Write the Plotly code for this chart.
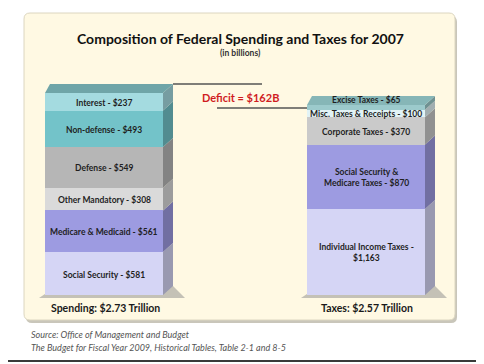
import plotly.graph_objects as go

# ---------------- data ----------------
spend_labels = ["Social Security - $581", "Medicare & Medicaid - $561", "Other Mandatory - $308",
                "Defense - $549", "Non-defense - $493", "Interest - $237"]
spend_values = [581, 561, 308, 549, 493, 237]
tax_labels = ["Individual Income Taxes -<br>$1,163", "Social Security &<br>Medicare Taxes - $870",
              "Corporate Taxes - $370", "Misc. Taxes & Receipts - $100", "Excise Taxes - $65"]
tax_values = [1163, 870, 370, 100, 65]
bar_titles = ["Spending: $2.73 Trillion", "Taxes: $2.57 Trillion"]
deficit_text = "Deficit = $162B"
title = "Composition of Federal Spending and Taxes for 2007"
subtitle = "(in billions)"
source_lines = ["Source: Office of Management and Budget",
                "The Budget for Fiscal Year 2009, Historical Tables, Table 2-1 and 8-5"]

# ---------------- style ----------------
spend_colors = ["#D5D5F5", "#9D9BE1", "#DADADA", "#B6B6B6", "#73C3C9", "#A4DBE0"]
tax_colors = ["#D5D5F5", "#9D9BE1", "#CACACA", "#E2F3F6", "#9CCACC"]
W, H = 484, 364
OFF = 8                          # page body margin of the browser
BASE = 295.0                     # screen row of bar bottoms
K = 202.0 / sum(spend_values)    # pixels per billion
DX, DY = 10.0, 9.0               # 3D depth offsets (px)
FONT = "Lato"
centers = [104.0, 366.0]
BW = 118.0


def py(p):
    """screen row -> data y"""
    return (BASE - p) / K


def dk(hexc, f=0.72):
    hexc = hexc.lstrip("#")
    r, g, b = (int(hexc[i:i + 2], 16) for i in (0, 2, 4))
    return "rgb(%d,%d,%d)" % (r * f, g * f, b * f)


fig = go.Figure()
shapes = []
ann = []

# frame / panel
shapes.append(dict(type="line", x0=480, x1=480, y0=py(0), y1=py(361), line=dict(color="#3a3a3a", width=2), layer="below"))
shapes.append(dict(type="line", x0=8, x1=481, y0=py(361), y1=py(361), line=dict(color="#3a3a3a", width=2), layer="below"))


def rrect(x0, y0, x1, y1, r):
    ry = r / K
    Y0, Y1 = py(y0), py(y1)
    return (f"M{x0 + r},{Y0} L{x1 - r},{Y0} Q{x1},{Y0} {x1},{Y0 - ry} L{x1},{Y1 + ry} "
            f"Q{x1},{Y1} {x1 - r},{Y1} L{x0 + r},{Y1} Q{x0},{Y1} {x0},{Y1 + ry} "
            f"L{x0},{Y0 - ry} Q{x0},{Y0} {x0 + r},{Y0} Z")


shapes.append(dict(type="path", path=rrect(26, 16, 457, 323, 6), fillcolor="#C9C6BA", line=dict(width=0), layer="below"))
shapes.append(dict(type="path", path=rrect(24, 13, 455, 320, 6), fillcolor="#FFF9E3",
                   line=dict(color="#DCD6C0", width=1), layer="below"))


def poly(pts, color):
    d = "M" + " L".join(f"{x},{y}" for x, y in pts) + " Z"
    return dict(type="path", path=d, fillcolor=color, line=dict(width=0), layer="below")


def add_bar(cx, values, colors, topcolor):
    L, R = cx - BW / 2, cx + BW / 2
    total = sum(values)
    shapes.append(poly([(L - 6, py(BASE + 3)), (R + DX + 12, py(BASE + 3)),
                        (R + DX, py(BASE - DY)), (L, py(BASE - 1))], "#C4C1B6"))
    cum = 0
    for v, c in zip(values, colors):
        fig.add_trace(go.Bar(x=[cx], y=[v], width=BW, marker=dict(color=c, line=dict(width=0)),
                             hoverinfo="skip", showlegend=False))
        y0, y1 = cum, cum + v
        shapes.append(poly([(R, y0), (R + DX, y0 + DY / K), (R + DX, y1 + DY / K), (R, y1)], dk(c)))
        cum = y1
    shapes.append(poly([(L, total), (R, total), (R + DX, total + DY / K), (L + 5, total + DY / K)], topcolor))
    return total


ts = add_bar(centers[0], spend_values, spend_colors, "#6FA5A8")
tt = add_bar(centers[1], tax_values, tax_colors, "#86B6B7")

LFONT = dict(family=FONT, size=8.5, color="#1f1f1f")
cum = 0
for v, lab in zip(spend_values, spend_labels):
    ann.append(dict(x=centers[0], y=cum + v / 2, text=f"<b>{lab}</b>", showarrow=False, font=LFONT, yshift=-1))
    cum += v
cum = 0
for i, (v, lab) in enumerate(zip(tax_values, tax_labels)):
    ys, yy = -1, cum + v / 2
    if i == len(tax_values) - 1:
        yy, ys = cum + v, 5
    ann.append(dict(x=centers[1], y=yy, text=f"<b>{lab}</b>", showarrow=False, yshift=ys, font=LFONT))
    cum += v

ydef1 = ts + DY / K
shapes.append(dict(type="line", x0=centers[0] + BW / 2 + DX, x1=262, y0=ydef1, y1=ydef1,
                   line=dict(color="#555555", width=1.5)))
ydef2 = tt - 3 / K
shapes.append(dict(type="line", x0=217, x1=centers[1] - BW / 2, y0=ydef2, y1=ydef2,
                   line=dict(color="#555555", width=1.5)))
ann.append(dict(x=240, y=py(97), text=f"<b>{deficit_text}</b>", showarrow=False,
                font=dict(family=FONT, size=11, color="#D01C1F")))

for cx, t in zip(centers, bar_titles):
    ann.append(dict(x=cx + 1, y=py(308), text=f"<b>{t}</b>", showarrow=False,
                    font=dict(family=FONT, size=10.5, color="#1a1a1a")))

ann.append(dict(x=240, y=py(38), text=f"<b>{title}</b>", showarrow=False,
                font=dict(family=FONT, size=14, color="#111111")))
ann.append(dict(x=240, y=py(53), text=f"<b>{subtitle}</b>", showarrow=False,
                font=dict(family=FONT, size=8.5, color="#333333")))

for i, s in enumerate(source_lines):
    ann.append(dict(x=29, y=py(334 + 13 * i), text=f"<i>{s}</i>", showarrow=False, xanchor="left",
                    font=dict(family=FONT, size=9, color="#555555")))

fig.update_layout(
    width=W - OFF, height=H - OFF, margin=dict(l=0, r=0, t=0, b=0),
    paper_bgcolor="white", plot_bgcolor="rgba(0,0,0,0)",
    barmode="stack", bargap=0, showlegend=False,
    xaxis=dict(range=[OFF, W], visible=False, fixedrange=True),
    yaxis=dict(range=[py(H), py(OFF)], visible=False, fixedrange=True),
    shapes=shapes, annotations=ann,
)
fig.write_html("out.html")
